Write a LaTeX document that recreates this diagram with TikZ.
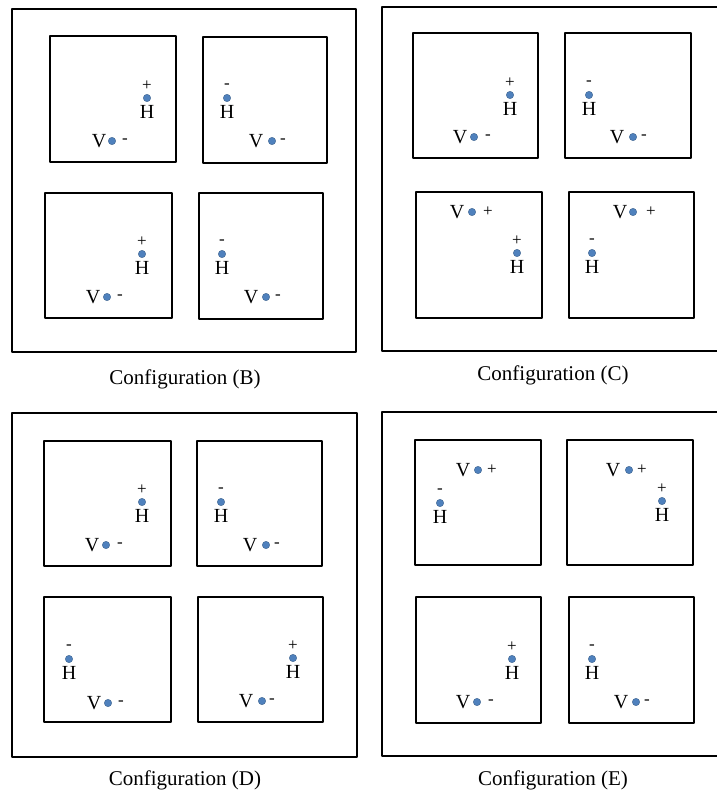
\documentclass[tikz,border=0pt]{standalone}
\usepackage{fontspec}
\setmainfont{Liberation Serif}
\definecolor{dotblue}{RGB}{79,129,189}
\tikzset{
  frame/.style={draw=black, line width=2.1pt, line join=round},
  cell/.style={draw=black, line width=2.2pt, line join=round},
  dot/.style={circle, fill=dotblue, draw=dotblue!75!black, line width=0.4pt, inner sep=0pt, minimum size=7.4pt},
  lbl/.style={inner sep=0pt, font=\fontsize{20}{22}\selectfont},
  sgn/.style={inner sep=0pt, font=\fontsize{17}{19}\selectfont},
  captext/.style={inner sep=0pt, font=\fontsize{21}{23}\selectfont}
}
\newcommand\hgrp[4]{%
  \node[dot] (#1) at (#2,#3) {};
  \node[sgn] (#1s) at (#2,#3-12) {#4};
  \node[lbl] (#1l) at (#2,#3+14) {H};}
\newcommand\vgrp[6]{%
  \node[dot] (#1) at (#2,#3) {};
  \node[lbl] (#1l) at (#4,#3) {V};
  \node[sgn] (#1s) at (#5,#3) {#6};}
\begin{document}
\begin{tikzpicture}[x=1pt, y=-1pt]
\useasboundingbox (0,0) rectangle (717,792);
% ---------- Configuration (B)
\draw[frame] (12,9) rectangle (356,352);
\draw[cell] (50,36) rectangle (176,162);
\draw[cell] (203,37) rectangle (327,163);
\draw[cell] (45,193) rectangle (172,318);
\draw[cell] (199,193) rectangle (323,319);
\hgrp{bh1}{147}{98}{+}
\vgrp{bv1}{112}{141}{99}{125}{-}
\hgrp{bh2}{227}{98}{-}
\vgrp{bv2}{272}{141}{256}{283}{-}
\hgrp{bh3}{142}{254}{+}
\vgrp{bv3}{107}{297}{93}{120}{-}
\hgrp{bh4}{222}{254}{-}
\vgrp{bv4}{266}{297}{251}{278}{-}
\node[captext] (capB) at (185,379) {Configuration (B)};
% ---------- Configuration (C)
\draw[frame] (718,7) -- (382,7) -- (382,351) -- (718,351);
\draw[cell] (413,33) rectangle (538,158);
\draw[cell] (565,33) rectangle (691,158);
\draw[cell] (416,192) rectangle (542,318);
\draw[cell] (569,192) rectangle (694,318);
\hgrp{ch1}{510}{95}{+}
\vgrp{cv1}{474}{137}{460}{488}{-}
\hgrp{ch2}{589}{95}{-}
\vgrp{cv2}{633}{137}{617}{644}{-}
\vgrp{cv3}{472}{212}{457}{488}{+}
\hgrp{ch3}{517}{253}{+}
\vgrp{cv4}{633}{212}{620}{651}{+}
\hgrp{ch4}{592}{253}{-}
\node[captext] (capC) at (553,375) {Configuration (C)};
% ---------- Configuration (D)
\draw[frame] (12,413) rectangle (357,757);
\draw[cell] (44,441) rectangle (171,566);
\draw[cell] (197,441) rectangle (322,566);
\draw[cell] (44,597) rectangle (171,722);
\draw[cell] (198,597) rectangle (323,722);
\hgrp{dh1}{142}{502}{+}
\vgrp{dv1}{106}{545}{92}{120}{-}
\hgrp{dh2}{221}{502}{-}
\vgrp{dv2}{266}{545}{250}{277}{-}
\hgrp{dh3}{69}{659}{-}
\vgrp{dv3}{108}{703}{94}{121}{-}
\hgrp{dh4}{293}{658}{+}
\vgrp{dv4}{262}{701}{246}{272}{-}
\node[captext] (capD) at (185,780) {Configuration (D)};
% ---------- Configuration (E)
\draw[frame] (718,412) -- (382,412) -- (382,756) -- (718,756);
\draw[cell] (415,440) rectangle (541,565);
\draw[cell] (567,440) rectangle (693,565);
\draw[cell] (416,597) rectangle (541,723);
\draw[cell] (569,597) rectangle (694,723);
\vgrp{ev1}{478}{470}{463}{492}{+}
\hgrp{eh1}{440}{503}{-}
\vgrp{ev2}{629}{470}{613}{642}{+}
\hgrp{eh2}{662}{501}{+}
\hgrp{eh3}{512}{659}{+}
\vgrp{ev3}{477}{702}{463}{491}{-}
\hgrp{eh4}{592}{659}{-}
\vgrp{ev4}{636}{702}{621}{647}{-}
\node[captext] (capE) at (553,780) {Configuration (E)};
\end{tikzpicture}
\end{document}
